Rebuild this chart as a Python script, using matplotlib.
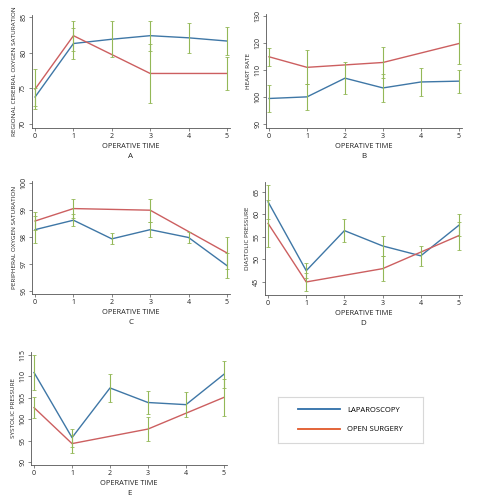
import numpy as np
import matplotlib.pyplot as plt
from matplotlib.lines import Line2D

# operative time points
t_lap = [0, 1, 2, 3, 4, 5]
t_open = [0, 1, 3, 5]

# A - regional cerebral oxygen saturation
rso2_lap = [73.8, 81.3, 81.9, 82.4, 82.1, 81.65]
rso2_lap_err = [1.3, 2.2, 2.5, 2.1, 2.1, 2.0]
rso2_open = [74.9, 82.4, 77.1, 77.1]
rso2_open_err = [2.8, 2.1, 4.2, 2.3]

# B - heart rate
hr_lap = [99.5, 100.1, 107.0, 103.4, 105.6, 105.9]
hr_lap_err = [5.0, 4.7, 5.8, 5.3, 5.2, 4.3]
hr_open = [114.9, 111.0, 112.8, 119.8]
hr_open_err = [3.4, 6.3, 5.8, 7.6]

# C - peripheral oxygen saturation
spo2_lap = [98.27, 98.62, 97.93, 98.27, 97.98, 96.94]
spo2_lap_err = [0.5, 0.22, 0.2, 0.27, 0.22, 0.45]
spo2_open = [98.59, 99.05, 98.99, 97.41]
spo2_open_err = [0.33, 0.35, 0.43, 0.6]

# D - diastolic pressure
dia_lap = [62.8, 47.5, 56.4, 53.0, 50.8, 57.6]
dia_lap_err = [3.8, 1.6, 2.6, 2.3, 2.2, 2.5]
dia_open = [58.0, 45.0, 47.95, 55.3]
dia_open_err = [5.3, 2.0, 2.8, 3.1]

# E - systolic pressure
sys_lap = [110.9, 95.7, 107.3, 103.9, 103.4, 110.5]
sys_lap_err = [4.1, 2.1, 3.3, 2.8, 3.0, 3.2]
sys_open = [102.7, 94.3, 97.7, 105.1]
sys_open_err = [2.5, 2.1, 2.9, 4.4]

BLUE = '#3f77a6'
RED = '#cc5f60'
GREEN = '#93b857'
AXC = '#555555'
TXT = '#222222'

plt.rcParams['font.family'] = ['Open Sans', 'DejaVu Sans']

W, H = 478, 500
fig = plt.figure(figsize=(W / 100, H / 100), dpi=100)


def make_ax(left, right, top, bottom):
    return fig.add_axes([left / W, (H - bottom) / H, (right - left) / W, (bottom - top) / H])


def panel(ax, lap, lap_err, opn, opn_err, ylim, yticks, ylabel, letter):
    ax.plot(t_lap, lap, color=BLUE, lw=1.0, zorder=2)
    ax.plot(t_open, opn, color=RED, lw=1.0, zorder=2)
    ax.errorbar(t_lap, lap, yerr=lap_err, fmt='none', ecolor=GREEN,
                elinewidth=0.8, capsize=1.2, capthick=0.6, zorder=3)
    ax.errorbar(t_open, opn, yerr=opn_err, fmt='none', ecolor=GREEN,
                elinewidth=0.8, capsize=1.2, capthick=0.6, zorder=3)
    ax.set_xlim(-0.08, 5.08)
    ax.set_ylim(*ylim)
    ax.set_xticks(range(6))
    ax.set_yticks(yticks)
    for s in ['top', 'right']:
        ax.spines[s].set_visible(False)
    for s in ['left', 'bottom']:
        ax.spines[s].set_color(AXC)
        ax.spines[s].set_linewidth(0.6)
    ax.tick_params(colors=AXC, labelcolor=TXT, labelsize=5, length=2, width=0.5, pad=1.5)
    for lab in ax.get_yticklabels():
        lab.set_rotation(90)
        lab.set_va('center')
    ax.set_ylabel(ylabel, fontsize=4.6, color=TXT, labelpad=2)
    ax.annotate('OPERATIVE TIME', xy=(0.5, 0), xycoords='axes fraction',
                xytext=(0, -13), textcoords='offset points', ha='center', va='center',
                fontsize=5.3, color=TXT)
    ax.annotate(letter, xy=(0.5, 0), xycoords='axes fraction',
                xytext=(0, -20.5), textcoords='offset points', ha='center', va='center',
                fontsize=5.8, color=TXT)


axA = make_ax(32, 230, 15, 128)
panel(axA, rso2_lap, rso2_lap_err, rso2_open, rso2_open_err, (69.45, 85.3),
      [70, 75, 80, 85], 'REGIONAL CEREBRAL OXYGEN SATURATION', 'A')

axB = make_ax(266, 462, 14, 128)
panel(axB, hr_lap, hr_lap_err, hr_open, hr_open_err, (88.6, 130.7),
      [90, 100, 110, 120, 130], 'HEART RATE', 'B')

axC = make_ax(32, 230, 181, 294)
panel(axC, spo2_lap, spo2_lap_err, spo2_open, spo2_open_err, (95.89, 100.07),
      [96, 97, 98, 99, 100], 'PERIPHERAL OXYGEN SATURATION', 'C')

axD = make_ax(265, 462, 182, 295)
panel(axD, dia_lap, dia_lap_err, dia_open, dia_open_err, (42.1, 67.2),
      [45, 50, 55, 60, 65], 'DIASTOLIC PRESSURE', 'D')

axE = make_ax(31, 227, 352, 465)
panel(axE, sys_lap, sys_lap_err, sys_open, sys_open_err, (89.3, 115.7),
      [90, 95, 100, 105, 110, 115], 'SYSTOLIC PRESSURE', 'E')

# legend box
axL = make_ax(278, 423, 397, 443)
axL.set_xticks([])
axL.set_yticks([])
for s in axL.spines.values():
    s.set_color('#d8d8d8')
    s.set_linewidth(0.8)
handles = [Line2D([], [], color='#2f6ea8', lw=1.3),
           Line2D([], [], color='#e0582a', lw=1.3)]
axL.legend(handles, ['LAPAROSCOPY', 'OPEN SURGERY'], loc='center', frameon=False,
           fontsize=5.5, handlelength=5.5, handletextpad=0.9, labelspacing=1.6,
           borderaxespad=0)

fig.savefig('out.png', dpi=100)
